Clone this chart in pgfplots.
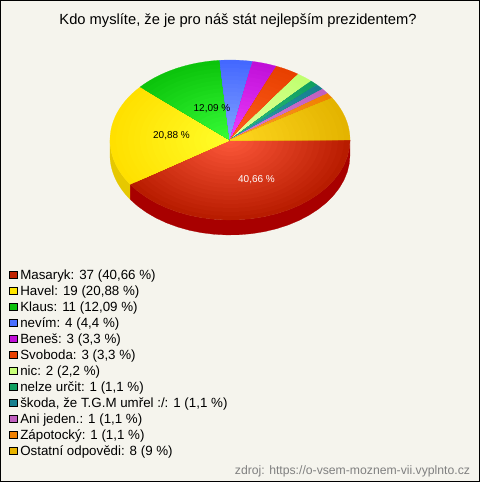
\documentclass[border=0pt]{standalone}
\usepackage{pgfplots}
\pgfplotsset{compat=1.18}
\usepackage{fontspec}
\setmainfont{Liberation Sans}
\definecolor{bg}{HTML}{F5F4ED}
\newcommand{\dc}[1]{\definecolor{#1}{HTML}{#1}}
\dc{FF5A3C}\dc{B81C00}\dc{FFFF2A}\dc{FFE000}\dc{38FF38}\dc{0CC40C}\dc{85A5FF}\dc{4468FF}
\dc{F040FF}\dc{C010D8}\dc{FF6020}\dc{E84000}\dc{E8FFA0}\dc{C0FF70}\dc{30C080}\dc{10A060}
\dc{30A0B0}\dc{188090}\dc{D880D8}\dc{C060C0}\dc{FFA030}\dc{F08000}\dc{FFD820}\dc{E4B400}
\dc{C02200}\dc{FFE600}\dc{0CC00C}\dc{4A6FFF}\dc{C8FF78}\dc{E8B400}\dc{A80000}\dc{E6C800}
\newcommand{\wall}[3]{%
\addplot[fill=#3,draw=#3,line width=0.2pt,samples at={0,1,...,49},variable=\t,forget plot]
 ({230+120*cos(360*(#1+(#2-#1)*(\t<=24?\t:49-\t)/24)/91)},
  {140+80*sin(360*(#1+(#2-#1)*(\t<=24?\t:49-\t)/24)/91)+(\t<=24?15:0)});
}
\newcommand{\slice}[4]{%
\pgfplotsinvokeforeach{100,95,...,5}{%
\addplot[fill=#4!##1!#3,draw=#4!##1!#3,line width=0.2pt,samples at={-1,0,1,...,24,25},variable=\t,forget plot]
 ({(\t<0||\t>24)?230:230+1.2*##1*cos(360*(#1+(#2-#1)*\t/24)/91)},
  {(\t<0||\t>24)?140:140+0.8*##1*sin(360*(#1+(#2-#1)*\t/24)/91)});
}}
\newcommand{\entry}[2]{\addlegendimage{fill=#1}\addlegendentry{#2}}
\begin{document}
\begin{tikzpicture}
\begin{axis}[
 scale only axis,width=479pt,height=481pt,
 xmin=0.5,xmax=479.5,ymin=0.5,ymax=481.5,y dir=reverse,
 xtick=\empty,ytick=\empty,axis line style={black,line width=1pt},
 axis background/.style={fill=bg},clip=false,
 legend cell align=left,
 legend image code/.code={\draw[#1,draw=black,line width=0.7pt] (0pt,1.0pt) rectangle (7.4pt,8.4pt);},
 legend style={at={(axis cs:9,268.5)},anchor=north west,draw=none,fill=none,inner sep=0pt,
   row sep=0pt,column sep=0pt,font=\fontsize{13.33}{15}\selectfont,
   nodes={inner xsep=3pt,inner ysep=0pt,text height=11pt,text depth=5pt,anchor=base west}},
]
\wall{0}{37}{A80000}
\wall{37}{45.5}{E6C800}
\slice{0}{37}{FF5A3C}{B81C00}
\slice{37}{56}{FFFF2A}{FFE000}
\slice{56}{67}{38FF38}{0CC40C}
\slice{67}{71}{85A5FF}{4468FF}
\slice{71}{74}{F040FF}{C010D8}
\slice{74}{77}{FF6020}{E84000}
\slice{77}{79}{E8FFA0}{C0FF70}
\slice{79}{80}{30C080}{10A060}
\slice{80}{81}{30A0B0}{188090}
\slice{81}{82}{D880D8}{C060C0}
\slice{82}{83}{FFA030}{F08000}
\slice{83}{91}{FFD820}{E4B400}
\entry{C02200}{Masaryk: 37 (40,66 \%)}
\entry{FFE600}{Havel: 19 (20,88 \%)}
\entry{0CC00C}{Klaus: 11 (12,09 \%)}
\entry{4A6FFF}{nevím: 4 (4,4 \%)}
\entry{C010D8}{Beneš: 3 (3,3 \%)}
\entry{E84000}{Svoboda: 3 (3,3 \%)}
\entry{C8FF78}{nic: 2 (2,2 \%)}
\entry{10A060}{nelze určit: 1 (1,1 \%)}
\entry{188090}{škoda, že T.G.M umřel :/: 1 (1,1 \%)}
\entry{C060C0}{Ani jeden.: 1 (1,1 \%)}
\entry{F08000}{Zápotocký: 1 (1,1 \%)}
\entry{E8B400}{Ostatní odpovědi: 8 (9 \%)}
\node[font=\fontsize{14.7}{16}\selectfont] at (axis cs:238,21) {Kdo myslíte, že je pro náš stát nejlepším prezidentem?};
\node[font=\fontsize{10}{12}\selectfont,white] at (axis cs:256.5,180) {40,66 \%};
\node[font=\fontsize{10}{12}\selectfont] at (axis cs:171.5,136) {20,88 \%};
\node[font=\fontsize{10}{12}\selectfont] at (axis cs:212,109) {12,09 \%};
\node[font=\fontsize{12.2}{14}\selectfont,text=gray,anchor=east] at (axis cs:473.5,471) {zdroj: https://o-vsem-moznem-vii.vyplnto.cz};
\end{axis}
\end{tikzpicture}
\end{document}
